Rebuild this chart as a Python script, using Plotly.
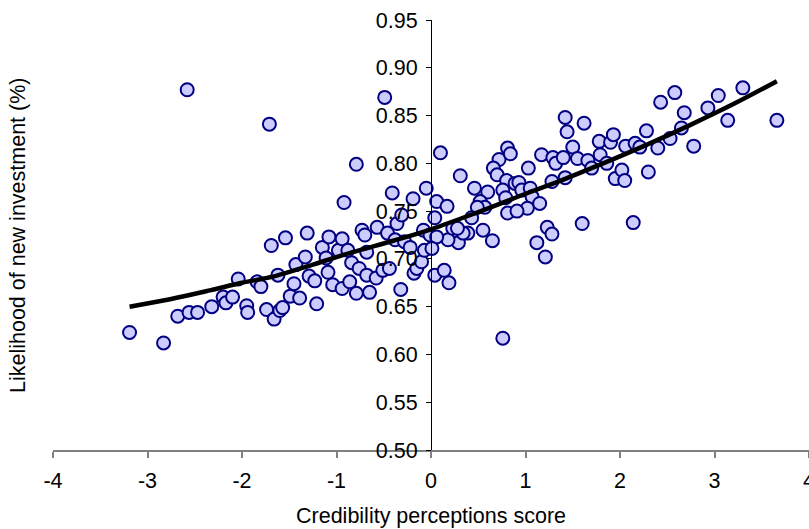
import plotly.graph_objects as go

# Scatter data (credibility score, likelihood of new investment)
score = [
    -3.19, -2.83, -2.68, -2.56, -2.47, -2.32, -2.20, -2.17, -2.10, -2.04,
    -1.95, -1.94, -1.84, -1.80, -1.74, -1.69, -1.66, -1.62, -1.60, -2.58, -1.71,
    -1.54, -1.57, -1.49, -1.45, -1.39, -1.43, -1.33, -1.31, -1.29, -1.23,
    -1.21, -1.15, -1.11, -1.08, -1.09, -1.04, -0.98, -0.94, -0.94, -0.88,
    -0.84, -0.86, -0.79, -0.76, -0.73, -0.70, -0.68, -0.68, -0.65, -0.58,
    -0.57, -0.51, -0.46, -0.44, -0.38, -0.36, -0.32, -0.28, -0.22, -0.18,
    -0.15, -0.10, -0.08, -0.07, -0.01,
    -0.49, -0.79, -0.92, -0.41, -0.19, -0.05, -0.31,
    0.04, 0.10, 0.06, 0.17, 0.04, 0.14, 0.19, 0.31, 0.46, 0.55,
    0.65, 0.60, 0.76, 0.72, 0.81, 0.84, 0.66, 0.70, 0.80, 0.76,
    0.79, 0.81, 0.89, 0.93, 0.96, 1.03, 1.05, 1.07, 1.02, 0.91,
    1.15, 1.17, 1.28, 1.29, 1.32, 1.40, 1.42, 1.42, 1.44, 1.50,
    1.55, 1.62, 1.66, 1.70, 1.23, 1.60, 1.12, 1.28, 1.21, 0.52,
    0.57, 0.49, 0.43, 0.39, 0.29, 0.18, 0.23, 0.06, 0.01, 0.34, 0.28,
    1.78, 1.90, 1.93, 1.79, 1.86, 1.95, 2.02, 2.05, 2.06, 2.16,
    2.21, 2.28, 2.30, 2.40, 2.43, 2.53, 2.58, 2.65, 2.68, 2.78,
    2.93, 3.04, 3.14, 3.30, 3.66, 2.14,
]
likelihood = [
    0.623, 0.612, 0.640, 0.644, 0.644, 0.650, 0.660, 0.654, 0.660, 0.679,
    0.651, 0.644, 0.676, 0.671, 0.647, 0.714, 0.637, 0.683, 0.646, 0.877, 0.841,
    0.722, 0.649, 0.661, 0.674, 0.659, 0.694, 0.702, 0.727, 0.682, 0.677,
    0.653, 0.712, 0.701, 0.723, 0.686, 0.673, 0.709, 0.721, 0.669, 0.709,
    0.696, 0.676, 0.664, 0.690, 0.730, 0.725, 0.683, 0.707, 0.665, 0.680,
    0.733, 0.688, 0.727, 0.690, 0.720, 0.737, 0.668, 0.718, 0.712, 0.685,
    0.690, 0.697, 0.730, 0.709, 0.725,
    0.869, 0.799, 0.759, 0.769, 0.763, 0.774, 0.746,
    0.743, 0.811, 0.760, 0.755, 0.683, 0.688, 0.675, 0.787, 0.774, 0.730,
    0.719, 0.770, 0.617, 0.804, 0.816, 0.810, 0.795, 0.788, 0.782, 0.772,
    0.764, 0.748, 0.779, 0.780, 0.772, 0.795, 0.774, 0.765, 0.753, 0.750,
    0.758, 0.809, 0.781, 0.806, 0.800, 0.806, 0.785, 0.848, 0.833, 0.817,
    0.805, 0.842, 0.803, 0.795, 0.733, 0.737, 0.717, 0.726, 0.702, 0.760,
    0.754, 0.754, 0.743, 0.727, 0.717, 0.720, 0.732, 0.723, 0.711, 0.727, 0.732,
    0.823, 0.822, 0.830, 0.809, 0.800, 0.784, 0.793, 0.782, 0.818, 0.821,
    0.817, 0.834, 0.791, 0.816, 0.864, 0.826, 0.874, 0.837, 0.853, 0.818,
    0.858, 0.871, 0.845, 0.879, 0.845, 0.738,
]

# Fitted trend curve
trend_x = [-3.19, -2.75, -2.34, -2.0, -1.65, -1.25, -0.83, -0.4, 0.0, 0.5, 1.05, 1.4, 1.75, 2.25, 2.74, 3.2, 3.66]
trend_y = [0.650, 0.658, 0.667, 0.675, 0.682, 0.694, 0.707, 0.719, 0.731, 0.749, 0.770, 0.783, 0.797, 0.818, 0.840, 0.862, 0.886]

x_ticks = [-4, -3, -2, -1, 0, 1, 2, 3, 4]
y_ticks = [0.50, 0.55, 0.60, 0.65, 0.70, 0.75, 0.80, 0.85, 0.90, 0.95]

FONT = "Liberation Sans, Arial, sans-serif"
FS = 21.5

fig = go.Figure()
fig.add_trace(go.Scatter(
    x=score, y=likelihood, mode="markers",
    marker=dict(size=13, color="#ccccff", line=dict(color="#000080", width=2)),
    showlegend=False, hoverinfo="skip",
))
fig.add_trace(go.Scatter(
    x=trend_x, y=trend_y, mode="lines",
    line=dict(color="black", width=4.5, shape="spline"),
    showlegend=False, hoverinfo="skip",
))

fig.update_layout(
    width=809, height=529,
    margin=dict(l=53, r=0, t=20, b=79),
    plot_bgcolor="white", paper_bgcolor="white",
    font=dict(family=FONT, size=FS, color="black"),
    xaxis=dict(
        range=[-4, 4], tickvals=x_ticks, ticktext=[str(v) for v in x_ticks],
        showgrid=False, zeroline=False, showline=True, linecolor="#808080", linewidth=1.5,
        ticks="outside", ticklen=6, tickcolor="#808080", tickwidth=1.5,
        tickfont=dict(size=FS), automargin=False, ticklabeloverflow="allow",
        ticklabelstandoff=4,
    ),
    yaxis=dict(
        range=[0.50, 0.95], tickvals=y_ticks, ticktext=["%.2f" % v for v in y_ticks],
        anchor="free", position=0.5,
        showgrid=False, zeroline=False, showline=True, linecolor="black", linewidth=1,
        ticks="outside", ticklen=5, tickcolor="black",
        tickfont=dict(size=FS), automargin=False, ticklabelstandoff=4,
    ),
    annotations=[
        dict(text="Likelihood of new investment (%)", xref="paper", yref="paper",
             x=(18 - 53) / 756, y=0.5, textangle=-90, showarrow=False,
             xanchor="center", yanchor="middle", font=dict(size=FS)),
        dict(text="Credibility perceptions score", xref="paper", yref="paper",
             x=0.5, y=-(516 - 450) / 430, showarrow=False,
             xanchor="center", yanchor="middle", font=dict(size=FS)),
    ],
)

fig.write_html("out.html")
